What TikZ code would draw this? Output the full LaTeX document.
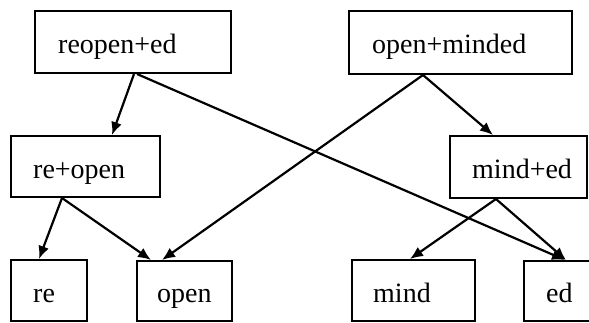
\documentclass[tikz,border=0pt]{standalone}
\usepackage{fontspec}
\setmainfont{Liberation Serif}
\usetikzlibrary{arrows.meta}
\tikzset{
  box/.style={draw=black, line width=2pt, rectangle, inner sep=0pt},
  lbl/.style={anchor=base west, inner sep=0pt, font=\fontsize{28}{32}\selectfont},
  conn/.style={draw=black, line width=2.2pt, -{Latex[length=13pt,width=11pt]}}
}
\begin{document}
\begin{tikzpicture}[x=1pt,y=-1pt]
\useasboundingbox (0,0) rectangle (589,322);
\clip (0,0) rectangle (589,322);
\fill[white] (0,0) rectangle (589,322);
% boxes
\node[box, minimum width=196pt, minimum height=62pt] (ro) at (133,42) {};
\node[box, minimum width=223pt, minimum height=63pt] (om) at (460.5,42.5) {};
\node[box, minimum width=149pt, minimum height=61pt] (rp) at (85.5,166.5) {};
\node[box, minimum width=137pt, minimum height=62pt] (me) at (518.5,167) {};
\node[box, minimum width=76pt, minimum height=61pt] (re) at (49,290.5) {};
\node[box, minimum width=95pt, minimum height=60pt] (op) at (184.5,291) {};
\node[box, minimum width=123pt, minimum height=61pt] (mi) at (413.5,290.5) {};
\node[box, minimum width=80pt, minimum height=60pt] (ed) at (564,291) {};
% labels
\node[lbl] (tro) at (58,53) {reopen+ed};
\node[lbl] (tom) at (372,53) {open+minded};
\node[lbl] (trp) at (33,178) {re+open};
\node[lbl] (tme) at (472,178) {mind+ed};
\node[lbl] (tre) at (33,302) {re};
\node[lbl] (top) at (157,302) {open};
\node[lbl] (tmi) at (373,302) {mind};
\node[lbl] (ted) at (546,302) {ed};
% connectors
\draw[conn] ([xshift=100pt]ro.south west) -- ([xshift=102pt]rp.north west);
\draw[conn] ([xshift=103pt]ro.south west) -- ([xshift=42pt]ed.north west);
\draw[conn] ([xshift=75pt]om.south west) -- ([xshift=44pt]me.north west);
\draw[conn] ([xshift=75pt]om.south west) -- ([xshift=26pt]op.north west);
\draw[conn] ([xshift=52pt]rp.south west) -- ([xshift=29pt]re.north west);
\draw[conn] ([xshift=52pt]rp.south west) -- ([xshift=15pt]op.north west);
\draw[conn] ([xshift=47pt]me.south west) -- ([xshift=59pt]mi.north west);
\draw[conn] ([xshift=47pt]me.south west) -- ([xshift=43pt]ed.north west);
\end{tikzpicture}
\end{document}
